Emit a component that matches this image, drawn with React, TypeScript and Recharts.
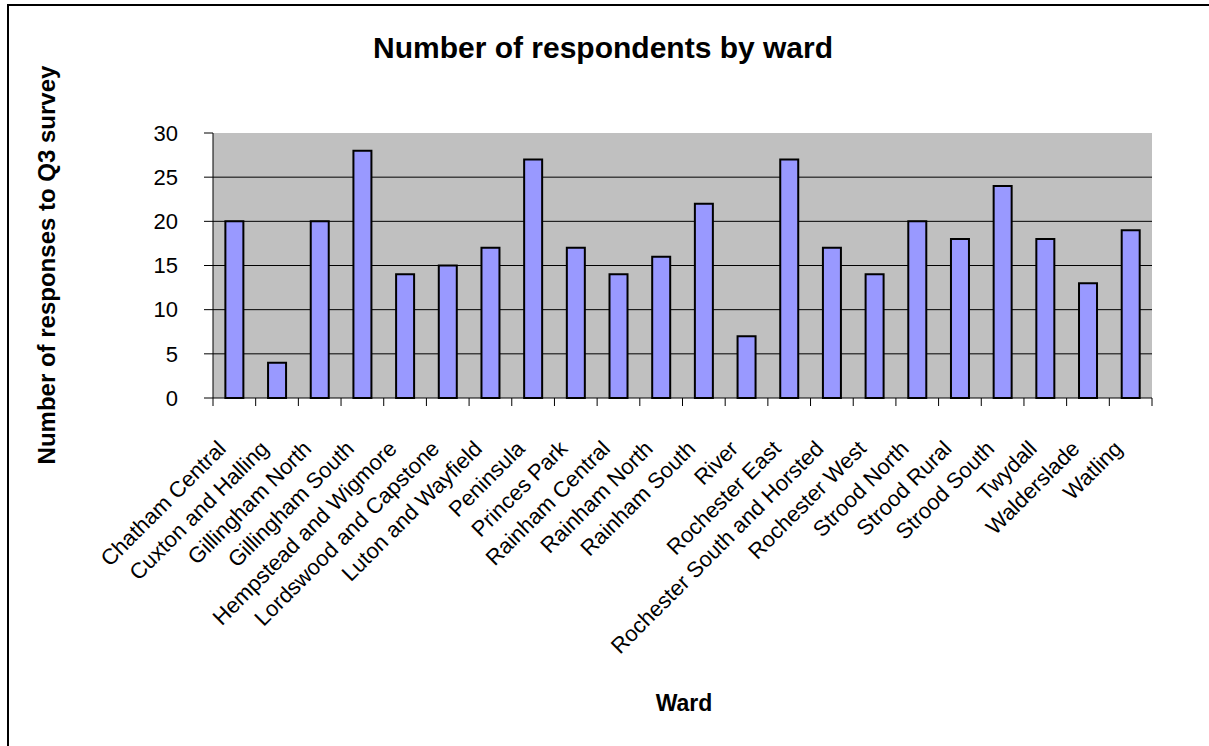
import { Bar, BarChart, CartesianGrid, XAxis, YAxis } from 'recharts';

const wards = [
  'Chatham Central',
  'Cuxton and Halling',
  'Gillingham North',
  'Gillingham South',
  'Hempstead and Wigmore',
  'Lordswood and Capstone',
  'Luton and Wayfield',
  'Peninsula',
  'Princes Park',
  'Rainham Central',
  'Rainham North',
  'Rainham South',
  'River',
  'Rochester East',
  'Rochester South and Horsted',
  'Rochester West',
  'Strood North',
  'Strood Rural',
  'Strood South',
  'Twydall',
  'Walderslade',
  'Watling',
];
const respondents = [20, 4, 20, 28, 14, 15, 17, 27, 17, 14, 16, 22, 7, 27, 17, 14, 20, 18, 24, 18, 13, 19];
const yTicks = [0, 5, 10, 15, 20, 25, 30];

const data = wards.map((ward, i) => ({ ward, count: respondents[i] }));

const W = 1209;
const H = 746;
const PLOT_LEFT = 213;
const PLOT_RIGHT = 1152;
const PLOT_TOP = 133;
const PLOT_BOTTOM = 398;
const BAND = (PLOT_RIGHT - PLOT_LEFT) / wards.length;
const FONT = '"Liberation Sans", Arial, sans-serif';

// category tick: boundary marks instead of centred ones, label rotated 45deg
function WardTick(props: any) {
  const { x, y, payload, index } = props;
  const last = index === wards.length - 1;
  const ax = x - 7;
  const ay = y + 52;
  return (
    <g>
      <line x1={x - BAND / 2} x2={x - BAND / 2} y1={y} y2={y + 8} stroke="#000" />
      {last && <line x1={x + BAND / 2} x2={x + BAND / 2} y1={y} y2={y + 8} stroke="#000" />}
      <text
        x={ax}
        y={ay}
        textAnchor="end"
        transform={`rotate(-45 ${ax} ${ay})`}
        fontSize={22}
        fontFamily={FONT}
        fill="#000"
      >
        {payload.value}
      </text>
    </g>
  );
}

export default function App() {
  return (
    <div style={{ position: 'absolute', left: 0, top: 0, width: W, height: H, background: '#fff', overflow: 'hidden' }}>
      <div
        style={{
          position: 'absolute',
          left: 7,
          top: 4,
          width: W,
          height: H,
          borderTop: '2px solid #000',
          borderLeft: '2px solid #000',
        }}
      />
      <BarChart
        width={W}
        height={H}
        data={data}
        margin={{ top: PLOT_TOP, right: W - PLOT_RIGHT, left: 0, bottom: 0 }}
        barCategoryGap="29%"
      >
        <CartesianGrid
          vertical={false}
          horizontalValues={[5, 10, 15, 20, 25]}
          stroke="#000"
          fill="#C0C0C0"
          fillOpacity={1}
        />
        <XAxis
          dataKey="ward"
          interval={0}
          height={H - PLOT_BOTTOM}
          tickSize={0}
          tickMargin={0}
          tick={<WardTick />}
          axisLine={{ stroke: '#000' }}
        />
        <XAxis xAxisId="frame" orientation="top" dataKey="ward" height={0} tick={false} tickLine={false} axisLine={{ stroke: '#808080' }} />
        <YAxis
          domain={[0, 30]}
          ticks={yTicks}
          width={PLOT_LEFT}
          tickSize={9}
          tickMargin={26}
          tick={{ fontSize: 22, fill: '#000', fontFamily: FONT }}
          tickLine={{ stroke: '#000' }}
          axisLine={{ stroke: '#000' }}
          interval={0}
        />
        <YAxis yAxisId="frame" orientation="right" width={0} domain={[0, 30]} tick={false} tickLine={false} axisLine={{ stroke: '#808080' }} />
        <Bar dataKey="count" fill="#9999FF" stroke="#000" strokeWidth={2} isAnimationActive={false} />
      </BarChart>
      <div
        style={{
          position: 'absolute',
          left: 603,
          top: 48,
          transform: 'translate(-50%, -50%)',
          whiteSpace: 'nowrap',
          fontFamily: FONT,
          fontWeight: 'bold',
          fontSize: 30,
        }}
      >
        Number of respondents by ward
      </div>
      <div
        style={{
          position: 'absolute',
          left: 47,
          top: 265,
          transform: 'translate(-50%, -50%) rotate(-90deg)',
          whiteSpace: 'nowrap',
          fontFamily: FONT,
          fontWeight: 'bold',
          fontSize: 24,
        }}
      >
        Number of responses to Q3 survey
      </div>
      <div
        style={{
          position: 'absolute',
          left: 684,
          top: 703,
          transform: 'translate(-50%, -50%)',
          whiteSpace: 'nowrap',
          fontFamily: FONT,
          fontWeight: 'bold',
          fontSize: 23,
        }}
      >
        Ward
      </div>
    </div>
  );
}
